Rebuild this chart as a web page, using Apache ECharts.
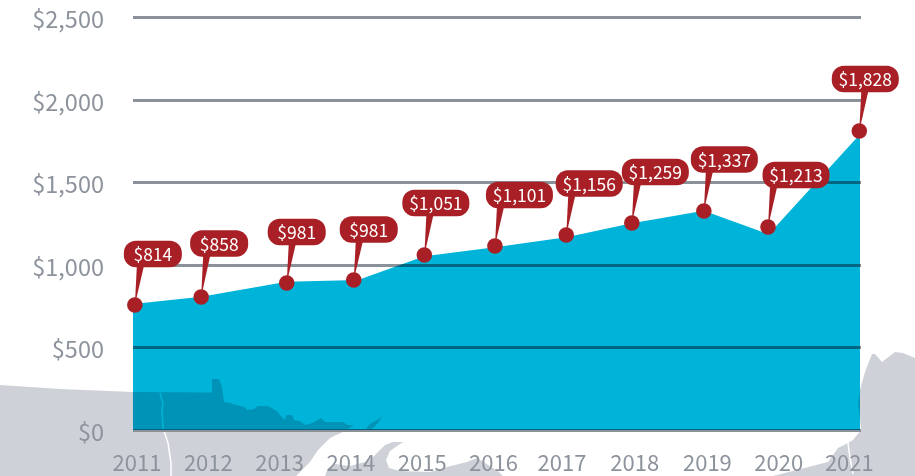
<!DOCTYPE html>
<html>
<head>
<meta charset="utf-8">
<style>
  html, body { margin: 0; padding: 0; background: #fff; }
  #main { width: 915px; height: 476px; }
</style>
<script src="https://cdn.jsdelivr.net/npm/echarts@6/dist/echarts.min.js"></script>
</head>
<body>
<div id="main"></div>
<script>
// tick labels
var yearTicks = [2011, 2012, 2013, 2014, 2015, 2016, 2016.96, 2017.98, 2019, 2020, 2020.99];

// area outline
var areaYears = [2010.94, 2011.9, 2013.1, 2014.1, 2015.03, 2016.02, 2017.02, 2017.94, 2018.95, 2019.86, 2021.14];
var areaValues = [764, 808, 899, 909, 1053, 1108, 1168, 1253, 1329, 1186, 1792];

// red dots and the text printed in their callouts
var dotYears = [2010.97, 2011.9, 2013.1, 2014.04, 2015.03, 2016.02, 2017.02, 2017.94, 2018.95, 2019.85, 2021.13];
var dotValues = [758, 806, 891, 909, 1061, 1115, 1182, 1255, 1327, 1230, 1812];
var dotLabels = ["$814", "$858", "$981", "$981", "$1,051", "$1,101", "$1,156", "$1,259", "$1,337", "$1,213", "$1,828"];

// callout placement relative to the dot
var pillDx = [18, 18, 10, 15, 11.5, 24.5, 23, 23.5, 20.5, 28, 6];
var pillDy = [-51, -53.5, -51, -50.5, -52, -51, -51.5, -51, -51.5, -52, -52];

var FONT = '"Noto Sans CJK JP", "Noto Sans", sans-serif';
var RED = "#a82026";
var LAND = "#cfd1d8";
var GREY_TEXT = "#8d939c";

function land(points) {
  return { type: "polygon", silent: true, z: -10, shape: { points: points }, style: { fill: LAND } };
}
function river(points) {
  return { type: "polyline", silent: true, z: -9, shape: { points: points }, style: { stroke: "#fff", fill: null, lineWidth: 1.5 } };
}

var myEchart = echarts.init(document.getElementById("main"));

var option = {
  animation: false,
  backgroundColor: "#fff",
  grid: { left: 133, right: 54, top: 17.5, bottom: 46 },
  // map in the background
  graphic: {
    elements: [
      land([[0,385],[60,389],[133,392],[212,392.5],[212,379],[219,379],[222,387],[224,402],[230,403],[236,405],[245,407],[247,410],[254,409],[258,406],[268,406],[277,411],[280,415],[285,420],[286,415],[292,415],[294,420],[300,421],[305,425],[312,423],[321,418],[325,422],[343,422],[348,425],[354,425],[345,431],[330,438],[318,450],[310,462],[296,476],[0,476]]),
      land([[365,430],[370,424],[382,417],[378,423],[372,429],[372,430]]),
      land([[325,476],[328,468],[335,464],[350,466],[365,462],[372,458],[378,452],[385,445],[393,442],[403,442],[397,446],[390,451],[386,460],[389,468],[400,471],[430,472],[447,467],[467,462],[477,458],[493,468],[500,473],[503,476]]),
      land([[860,390],[865,372],[872,354],[875,354],[882,362],[895,352],[903,353],[915,358],[915,476],[773,476],[828,462],[838,448],[848,443],[853,440],[857,435],[861,430],[860,418],[858,403]]),
      river([[160,393],[163,403],[162,410],[163,428],[168,443],[171,463],[171,476]]),
      river([[848,443],[850,458],[853,474]])
    ]
  },
  xAxis: {
    type: "value",
    min: 2010.944,
    max: 2021.154,
    splitLine: { show: false },
    axisLine: { show: false },
    axisTick: { show: false },
    axisLabel: {
      customValues: yearTicks,
      formatter: function (v) { return String(Math.round(v)); },
      color: GREY_TEXT,
      fontFamily: FONT,
      fontSize: 22,
      margin: 22
    }
  },
  yAxis: {
    type: "value",
    min: 0,
    max: 2500,
    interval: 500,
    axisLine: { show: false },
    axisTick: { show: false },
    axisLabel: {
      formatter: function (v) { return "$" + v.toLocaleString("en-US"); },
      color: GREY_TEXT,
      fontFamily: FONT,
      fontSize: 23.5,
      margin: 29,
      verticalAlign: "top",
      lineHeight: 4 // nudges the labels a little below their gridline
    },
    splitLine: { lineStyle: { color: "#8a9199", width: 3 } }
  },
  series: [
    {
      type: "line",
      blendMode: "multiply", // lets the map and gridlines show through
      symbol: "none",
      lineStyle: { width: 0 },
      areaStyle: { color: "#00b4d9", opacity: 1 },
      data: areaYears.map(function (y, i) { return [y, areaValues[i]]; }),
      z: 3
    },
    {
      type: "custom",
      z: 5,
      data: dotYears.map(function (y, i) { return [y, dotValues[i]]; }),
      renderItem: function (params, api) {
        var i = params.dataIndex;
        var p = api.coord([api.value(0), api.value(1)]);
        var label = dotLabels[i];
        var w = label.length > 4 ? 67 : 58;
        var h = 26.5;
        var cx = p[0] + pillDx[i];
        var cy = p[1] + pillDy[i];
        var bottom = cy + h / 2 - 1;
        return {
          type: "group",
          children: [
            {
              type: "polygon",
              shape: { points: [[p[0], p[1]], [p[0] + 2, bottom], [p[0] + 9, bottom]] },
              style: { fill: RED }
            },
            {
              type: "circle",
              shape: { cx: p[0], cy: p[1], r: 7.8 },
              style: { fill: RED }
            },
            {
              type: "rect",
              shape: { x: cx - w / 2, y: cy - h / 2, width: w, height: h, r: 12 },
              style: { fill: RED }
            },
            {
              type: "text",
              style: {
                text: label,
                x: cx,
                y: cy + 0.5,
                align: "center",
                verticalAlign: "middle",
                fill: "#fff",
                font: "17.5px " + FONT
              }
            }
          ]
        };
      }
    }
  ]
};
myEchart.setOption(option);
</script>
</body>
</html>
